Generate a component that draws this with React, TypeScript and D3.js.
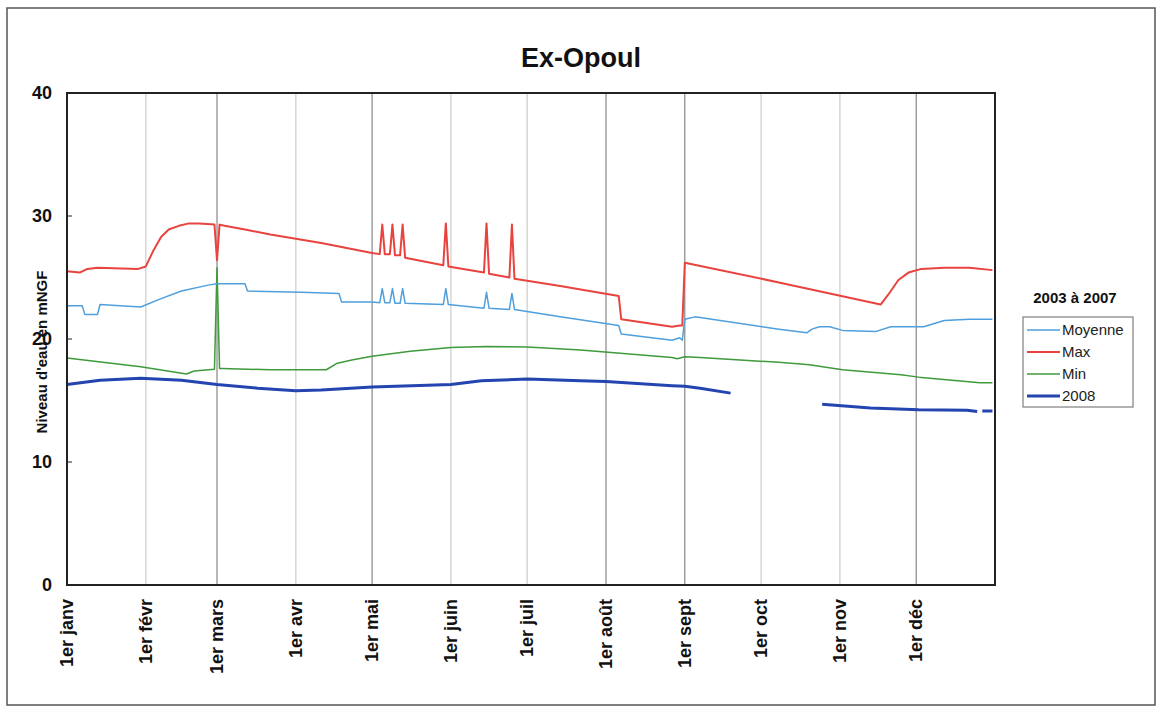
import React from "react";
import * as d3 from "d3";

type Pt = [number, number | null];

const TITLE = "Ex-Opoul";
const Y_LABEL = "Niveau d'eau en mNGF";
const LEGEND_TITLE = "2003 à 2007";

const monthDays = [0, 31, 59, 90, 120, 151, 181, 212, 243, 273, 304, 334];
const monthLabels = [
  "1er janv", "1er févr", "1er mars", "1er avr", "1er mai", "1er juin",
  "1er juil", "1er août", "1er sept", "1er oct", "1er nov", "1er déc",
];
const darkGrid = [2, 4, 7, 8, 11];
const yTicks = [0, 10, 20, 30, 40];

const maxSeries: Pt[] = [
  [0, 25.5], [5, 25.4], [8, 25.7], [12, 25.8], [28, 25.7], [31, 25.9], [34, 27.2],
  [37, 28.3], [40, 28.9], [44, 29.2], [48, 29.4], [52, 29.4], [58, 29.3], [59, 26.4],
  [60, 29.3], [62, 29.2], [70, 28.9], [80, 28.5], [100, 27.8], [120, 27.0],
  [123, 26.9], [124, 29.3], [125, 26.9], [127, 26.9], [128, 29.3], [129, 26.8],
  [131, 26.8], [132, 29.3], [133, 26.6], [148, 26.0], [149, 29.4], [150, 25.9],
  [164, 25.4], [165, 29.4], [166, 25.3], [174, 25.0], [175, 29.3], [176, 24.9],
  [194, 24.3], [217, 23.5], [218, 21.6], [238, 21.0], [241, 21.1], [242, 21.1],
  [243, 26.2], [280, 24.6], [320, 22.8], [323, 23.6], [327, 24.8], [331, 25.4],
  [336, 25.7], [345, 25.8], [355, 25.8], [364, 25.6],
];

const moyenneSeries: Pt[] = [
  [0, 22.7], [6, 22.7], [7, 22.0], [12, 22.0], [13, 22.8], [29, 22.6], [36, 23.2],
  [45, 23.9], [56, 24.4], [59, 24.5], [70, 24.5], [71, 23.9], [92, 23.8], [107, 23.7],
  [108, 23.0], [120, 23.0], [123, 22.95], [124, 24.1], [125, 22.95], [127, 22.95],
  [128, 24.1], [129, 22.9], [131, 22.9], [132, 24.1], [133, 22.9], [148, 22.8],
  [149, 24.1], [150, 22.8], [164, 22.5], [165, 23.8], [166, 22.5], [174, 22.4],
  [175, 23.7], [176, 22.4], [194, 21.8], [217, 21.1], [218, 20.4], [238, 19.9],
  [241, 20.1], [242, 19.9], [243, 21.6], [247, 21.8], [280, 20.8], [291, 20.5],
  [293, 20.8], [296, 21.0], [300, 21.0], [305, 20.7], [318, 20.6], [324, 21.0],
  [337, 21.0], [345, 21.5], [355, 21.6], [364, 21.6],
];

const minSeries: Pt[] = [
  [0, 18.45], [29, 17.75], [47, 17.15], [50, 17.4], [58, 17.55], [59, 25.8],
  [60, 17.6], [61, 17.6], [80, 17.5], [102, 17.5], [106, 18.0], [112, 18.3],
  [120, 18.6], [135, 19.0], [151, 19.3], [165, 19.4], [181, 19.35], [202, 19.1],
  [238, 18.5], [240, 18.4], [243, 18.56], [249, 18.5], [280, 18.1], [292, 17.9],
  [305, 17.5], [328, 17.1], [335, 16.9], [359, 16.45], [364, 16.45],
];

const y2008Series: Pt[] = [
  [0, 16.3], [13, 16.65], [29, 16.8], [45, 16.65], [59, 16.3], [75, 16.0],
  [90, 15.8], [100, 15.85], [120, 16.1], [151, 16.3], [163, 16.6], [181, 16.75],
  [202, 16.6], [212, 16.55], [238, 16.2], [243, 16.15], [249, 16.0], [261, 15.6],
  [262, null],
  [297, 14.7], [316, 14.4], [335, 14.25], [354, 14.2], [358, 14.1],
  [359, null],
  [360, 14.15], [364, 14.15],
];

const series = [
  { name: "Moyenne", data: moyenneSeries, color: "#4f9fdc", width: 1.5 },
  { name: "Max", data: maxSeries, color: "#e8433f", width: 2 },
  { name: "Min", data: minSeries, color: "#3f9a3c", width: 1.5 },
  { name: "2008", data: y2008Series, color: "#2445b0", width: 3 },
];

const FONT = "'Liberation Sans', Arial, sans-serif";

export default function App() {
  const W = 1159;
  const H = 708;
  const plot = { left: 67, right: 995, top: 93, bottom: 585 };

  const x = d3.scaleLinear().domain([0, 365]).range([plot.left, plot.right]);
  const y = d3.scaleLinear().domain([0, 40]).range([plot.bottom, plot.top]);

  const line = d3
    .line<Pt>()
    .defined((d) => d[1] !== null)
    .x((d) => x(d[0]))
    .y((d) => y(d[1] as number));

  const drawOrder = [2, 0, 1, 3];

  const legend = { x: 1023, y: 317, w: 110, h: 90 };

  return (
    <svg
      width={W}
      height={H}
      style={{ position: "absolute", left: 0, top: 0, background: "#fff" }}
      fontFamily={FONT}
    >
      <rect x={0} y={0} width={W} height={H} fill="#fff" />
      <rect x={7} y={8} width={1148} height={697} fill="none" stroke="#555" strokeWidth={1.5} />

      <text x={581} y={67} textAnchor="middle" fontSize={27} fontWeight="bold" fill="#111">
        {TITLE}
      </text>

      {/* grid */}
      {monthDays.map((d, i) =>
        i === 0 ? null : (
          <line
            key={"g" + i}
            x1={x(d)}
            x2={x(d)}
            y1={plot.top}
            y2={plot.bottom}
            stroke={darkGrid.includes(i) ? "#6e6e6e" : "#d6d6d6"}
            strokeWidth={darkGrid.includes(i) ? 1 : 1.5}
          />
        )
      )}

      {/* series */}
      {drawOrder.map((k) => {
        const s = series[k];
        return (
          <path
            key={s.name}
            d={line(s.data) || ""}
            fill="none"
            stroke={s.color}
            strokeWidth={s.width}
            strokeLinejoin="round"
          />
        );
      })}

      {/* plot border */}
      <rect
        x={plot.left}
        y={plot.top}
        width={plot.right - plot.left}
        height={plot.bottom - plot.top}
        fill="none"
        stroke="#222"
        strokeWidth={2}
      />

      {/* y ticks */}
      {yTicks.map((t) => (
        <g key={"y" + t}>
          <line x1={plot.left} x2={plot.left + 5} y1={y(t)} y2={y(t)} stroke="#222" strokeWidth={1} />
          <text x={52} y={y(t)} dy="0.35em" textAnchor="end" fontSize={18} fontWeight="bold" fill="#111">
            {t}
          </text>
        </g>
      ))}

      {/* x labels */}
      {monthDays.map((d, i) => (
        <text
          key={"x" + i}
          transform={`translate(${x(d)},${599}) rotate(-90)`}
          textAnchor="end"
          dy="0.35em"
          fontSize={18}
          fontWeight="bold"
          fill="#111"
        >
          {monthLabels[i]}
        </text>
      ))}

      {/* y axis label */}
      <text
        transform={`translate(42,352) rotate(-90)`}
        textAnchor="middle"
        dy="0.35em"
        fontSize={15}
        fontWeight="bold"
        fill="#111"
      >
        {Y_LABEL}
      </text>

      {/* legend */}
      <text x={1075} y={303} textAnchor="middle" fontSize={15} fontWeight="bold" fill="#111">
        {LEGEND_TITLE}
      </text>
      <rect x={legend.x} y={legend.y} width={legend.w} height={legend.h} fill="#fff" stroke="#666" strokeWidth={1} />
      {series.map((s, i) => {
        const ly = 330 + i * 22;
        return (
          <g key={"l" + s.name}>
            <line x1={legend.x + 4} x2={legend.x + 37} y1={ly} y2={ly} stroke={s.color} strokeWidth={s.width} />
            <text x={legend.x + 39} y={ly} dy="0.35em" fontSize={15} fill="#222">
              {s.name}
            </text>
          </g>
        );
      })}
    </svg>
  );
}
